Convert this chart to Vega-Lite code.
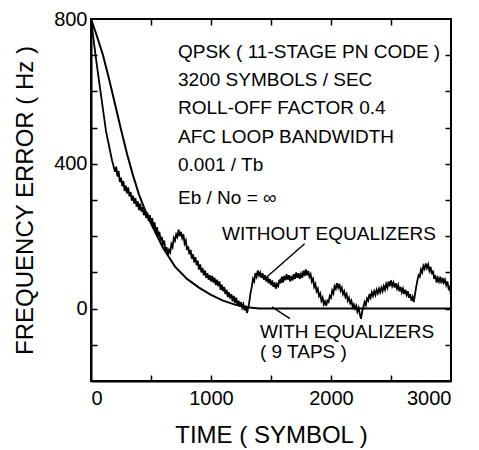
{
  "$schema": "https://vega.github.io/schema/vega-lite/v6.json",
  "autosize": "none",
  "padding": {"left": 91, "top": 19, "right": 28, "bottom": 69},
  "width": 360,
  "height": 362,
  "background": "white",
  "config": {
    "font": "Liberation Sans",
    "view": {"stroke": "black", "strokeWidth": 2},
    "axis": {
      "domainColor": "black", "domainWidth": 2, "tickColor": "black", "tickWidth": 1.5,
      "labelColor": "black", "titleColor": "black", "titleFontWeight": "normal",
      "labelFont": "Liberation Sans", "titleFont": "Liberation Sans", "grid": false
    }
  },
  "datasets": {
    "smooth": [
      {"t": 0, "v": 800}, {"t": 50, "v": 752}, {"t": 100, "v": 700}, {"t": 150, "v": 635}, {"t": 200, "v": 565},
      {"t": 250, "v": 495}, {"t": 300, "v": 428}, {"t": 350, "v": 368}, {"t": 400, "v": 315},
      {"t": 450, "v": 272}, {"t": 500, "v": 235}, {"t": 600, "v": 168}, {"t": 700, "v": 116},
      {"t": 800, "v": 82}, {"t": 900, "v": 58}, {"t": 1000, "v": 38}, {"t": 1100, "v": 22},
      {"t": 1200, "v": 11}, {"t": 1300, "v": 4}, {"t": 1400, "v": 0}, {"t": 3000, "v": 0}
    ],
    "noisy": [
      {"t": 0, "v": 800}, {"t": 15, "v": 760}, {"t": 30, "v": 720}, {"t": 50, "v": 670}, {"t": 75, "v": 610},
      {"t": 100, "v": 550}, {"t": 125, "v": 490}, {"t": 150, "v": 450}, {"t": 175, "v": 410},
      {"t": 200, "v": 378}, {"t": 210, "v": 392}, {"t": 220, "v": 365}, {"t": 230, "v": 380}, {"t": 240, "v": 350},
      {"t": 250, "v": 362}, {"t": 260, "v": 338}, {"t": 270, "v": 352}, {"t": 280, "v": 325}, {"t": 290, "v": 340},
      {"t": 300, "v": 318}, {"t": 310, "v": 335}, {"t": 320, "v": 310}, {"t": 330, "v": 322}, {"t": 340, "v": 298},
      {"t": 350, "v": 312}, {"t": 360, "v": 290}, {"t": 370, "v": 305}, {"t": 380, "v": 282}, {"t": 390, "v": 296},
      {"t": 400, "v": 272}, {"t": 410, "v": 290}, {"t": 420, "v": 268}, {"t": 430, "v": 280}, {"t": 440, "v": 258},
      {"t": 450, "v": 275}, {"t": 460, "v": 250}, {"t": 470, "v": 265}, {"t": 480, "v": 242}, {"t": 490, "v": 258},
      {"t": 500, "v": 235}, {"t": 510, "v": 250}, {"t": 520, "v": 222}, {"t": 530, "v": 238}, {"t": 540, "v": 210},
      {"t": 550, "v": 225}, {"t": 560, "v": 200}, {"t": 570, "v": 212}, {"t": 580, "v": 188}, {"t": 590, "v": 198},
      {"t": 600, "v": 175}, {"t": 610, "v": 188}, {"t": 620, "v": 160}, {"t": 630, "v": 170}, {"t": 640, "v": 148},
      {"t": 650, "v": 162}, {"t": 660, "v": 155}, {"t": 670, "v": 178}, {"t": 680, "v": 170}, {"t": 690, "v": 195},
      {"t": 700, "v": 188}, {"t": 710, "v": 205}, {"t": 720, "v": 198}, {"t": 730, "v": 218}, {"t": 740, "v": 200},
      {"t": 750, "v": 212}, {"t": 760, "v": 195}, {"t": 770, "v": 205}, {"t": 780, "v": 180}, {"t": 790, "v": 188},
      {"t": 800, "v": 162}, {"t": 810, "v": 172}, {"t": 820, "v": 150}, {"t": 830, "v": 162}, {"t": 840, "v": 138},
      {"t": 850, "v": 150}, {"t": 860, "v": 128}, {"t": 870, "v": 142}, {"t": 880, "v": 120}, {"t": 890, "v": 132},
      {"t": 900, "v": 108}, {"t": 910, "v": 122}, {"t": 920, "v": 100}, {"t": 930, "v": 112}, {"t": 940, "v": 92},
      {"t": 950, "v": 105}, {"t": 960, "v": 85}, {"t": 970, "v": 98}, {"t": 980, "v": 80}, {"t": 990, "v": 92},
      {"t": 1000, "v": 75}, {"t": 1010, "v": 90}, {"t": 1020, "v": 72}, {"t": 1030, "v": 85}, {"t": 1040, "v": 65},
      {"t": 1050, "v": 80}, {"t": 1060, "v": 62}, {"t": 1070, "v": 75}, {"t": 1080, "v": 52}, {"t": 1090, "v": 66},
      {"t": 1100, "v": 48}, {"t": 1110, "v": 60}, {"t": 1120, "v": 40}, {"t": 1130, "v": 52}, {"t": 1140, "v": 32},
      {"t": 1150, "v": 45}, {"t": 1160, "v": 28}, {"t": 1170, "v": 40}, {"t": 1180, "v": 20}, {"t": 1190, "v": 35},
      {"t": 1200, "v": 15}, {"t": 1210, "v": 30}, {"t": 1220, "v": 10}, {"t": 1230, "v": 22}, {"t": 1240, "v": 5},
      {"t": 1250, "v": 18}, {"t": 1260, "v": 2}, {"t": 1270, "v": 12}, {"t": 1280, "v": -5}, {"t": 1290, "v": 8},
      {"t": 1300, "v": -12}, {"t": 1310, "v": 2}, {"t": 1320, "v": 20}, {"t": 1330, "v": 45}, {"t": 1340, "v": 60},
      {"t": 1350, "v": 82}, {"t": 1360, "v": 75}, {"t": 1370, "v": 98}, {"t": 1380, "v": 88}, {"t": 1390, "v": 105},
      {"t": 1400, "v": 92}, {"t": 1410, "v": 100}, {"t": 1420, "v": 85}, {"t": 1430, "v": 98}, {"t": 1440, "v": 80},
      {"t": 1450, "v": 92}, {"t": 1460, "v": 75}, {"t": 1470, "v": 88}, {"t": 1480, "v": 70}, {"t": 1490, "v": 82},
      {"t": 1500, "v": 65}, {"t": 1510, "v": 78}, {"t": 1520, "v": 60}, {"t": 1530, "v": 72}, {"t": 1540, "v": 55},
      {"t": 1550, "v": 68}, {"t": 1560, "v": 62}, {"t": 1570, "v": 80}, {"t": 1580, "v": 70}, {"t": 1590, "v": 88},
      {"t": 1600, "v": 72}, {"t": 1610, "v": 90}, {"t": 1620, "v": 78}, {"t": 1630, "v": 95}, {"t": 1640, "v": 80},
      {"t": 1650, "v": 92}, {"t": 1660, "v": 75}, {"t": 1670, "v": 90}, {"t": 1680, "v": 78}, {"t": 1690, "v": 95},
      {"t": 1700, "v": 82}, {"t": 1710, "v": 100}, {"t": 1720, "v": 85}, {"t": 1730, "v": 98}, {"t": 1740, "v": 82},
      {"t": 1750, "v": 96}, {"t": 1760, "v": 85}, {"t": 1770, "v": 105}, {"t": 1780, "v": 90}, {"t": 1790, "v": 108},
      {"t": 1800, "v": 92}, {"t": 1810, "v": 104}, {"t": 1820, "v": 88}, {"t": 1830, "v": 95}, {"t": 1840, "v": 75},
      {"t": 1850, "v": 82}, {"t": 1860, "v": 60}, {"t": 1870, "v": 68}, {"t": 1880, "v": 48}, {"t": 1890, "v": 55},
      {"t": 1900, "v": 35}, {"t": 1910, "v": 42}, {"t": 1920, "v": 22}, {"t": 1930, "v": 30}, {"t": 1940, "v": 12},
      {"t": 1950, "v": 20}, {"t": 1960, "v": 8}, {"t": 1970, "v": 22}, {"t": 1980, "v": 18}, {"t": 1990, "v": 35},
      {"t": 2000, "v": 30}, {"t": 2010, "v": 50}, {"t": 2020, "v": 42}, {"t": 2030, "v": 62}, {"t": 2040, "v": 55},
      {"t": 2050, "v": 70}, {"t": 2060, "v": 58}, {"t": 2070, "v": 68}, {"t": 2080, "v": 50}, {"t": 2090, "v": 58},
      {"t": 2100, "v": 40}, {"t": 2110, "v": 48}, {"t": 2120, "v": 32}, {"t": 2130, "v": 40}, {"t": 2140, "v": 22},
      {"t": 2150, "v": 30}, {"t": 2160, "v": 15}, {"t": 2170, "v": 22}, {"t": 2180, "v": 5}, {"t": 2190, "v": 12},
      {"t": 2200, "v": 0}, {"t": 2210, "v": 8}, {"t": 2220, "v": -8}, {"t": 2230, "v": 2}, {"t": 2240, "v": -15},
      {"t": 2250, "v": -28}, {"t": 2260, "v": -8}, {"t": 2270, "v": 5}, {"t": 2280, "v": 18}, {"t": 2290, "v": 10},
      {"t": 2300, "v": 28}, {"t": 2310, "v": 22}, {"t": 2320, "v": 40}, {"t": 2330, "v": 30}, {"t": 2340, "v": 45},
      {"t": 2350, "v": 35}, {"t": 2360, "v": 48}, {"t": 2370, "v": 38}, {"t": 2380, "v": 52}, {"t": 2390, "v": 42},
      {"t": 2400, "v": 55}, {"t": 2410, "v": 45}, {"t": 2420, "v": 58}, {"t": 2430, "v": 48}, {"t": 2440, "v": 62},
      {"t": 2450, "v": 52}, {"t": 2460, "v": 68}, {"t": 2470, "v": 58}, {"t": 2480, "v": 75}, {"t": 2490, "v": 62},
      {"t": 2500, "v": 78}, {"t": 2510, "v": 62}, {"t": 2520, "v": 72}, {"t": 2530, "v": 58}, {"t": 2540, "v": 70},
      {"t": 2550, "v": 55}, {"t": 2560, "v": 65}, {"t": 2570, "v": 48}, {"t": 2580, "v": 60}, {"t": 2590, "v": 45},
      {"t": 2600, "v": 55}, {"t": 2610, "v": 40}, {"t": 2620, "v": 52}, {"t": 2630, "v": 38}, {"t": 2640, "v": 48},
      {"t": 2650, "v": 30}, {"t": 2660, "v": 40}, {"t": 2670, "v": 22}, {"t": 2680, "v": 32}, {"t": 2690, "v": 18},
      {"t": 2700, "v": 40}, {"t": 2710, "v": 60}, {"t": 2720, "v": 78}, {"t": 2730, "v": 92}, {"t": 2740, "v": 88},
      {"t": 2750, "v": 108}, {"t": 2760, "v": 100}, {"t": 2770, "v": 118}, {"t": 2780, "v": 110}, {"t": 2790, "v": 125},
      {"t": 2800, "v": 112}, {"t": 2810, "v": 122}, {"t": 2820, "v": 105}, {"t": 2830, "v": 115}, {"t": 2840, "v": 95},
      {"t": 2850, "v": 105}, {"t": 2860, "v": 82}, {"t": 2870, "v": 92}, {"t": 2880, "v": 72}, {"t": 2890, "v": 85},
      {"t": 2900, "v": 75}, {"t": 2910, "v": 88}, {"t": 2920, "v": 70}, {"t": 2930, "v": 85}, {"t": 2940, "v": 72},
      {"t": 2950, "v": 80}, {"t": 2960, "v": 65}, {"t": 2970, "v": 75}, {"t": 2980, "v": 55}, {"t": 2990, "v": 60},
      {"t": 3000, "v": 35}
    ],
    "notes": [
      {"t": 725, "v": 709, "label": "QPSK ( 11-STAGE PN CODE )"},
      {"t": 725, "v": 632, "label": "3200 SYMBOLS / SEC"},
      {"t": 725, "v": 554, "label": "ROLL-OFF FACTOR 0.4"},
      {"t": 725, "v": 474, "label": "AFC LOOP BANDWIDTH"},
      {"t": 725, "v": 397, "label": "0.001 / Tb"},
      {"t": 725, "v": 306, "label": "Eb / No = ∞"},
      {"t": 1092, "v": 207, "label": "WITHOUT EQUALIZERS"},
      {"t": 1408, "v": -64, "label": "WITH EQUALIZERS"},
      {"t": 1408, "v": -120, "label": "( 9 TAPS )"}
    ],
    "leaders": [
      {"t": 1780, "v": 179, "t2": 1467, "v2": 88},
      {"t": 1508, "v": 5, "t2": 1658, "v2": -28}
    ]
  },
  "layer": [
    {
      "data": {"name": "smooth"},
      "mark": {"type": "line", "color": "black", "strokeWidth": 2},
      "encoding": {
        "x": {"field": "t", "type": "quantitative", "scale": {"domain": [0, 3000], "nice": false},
          "axis": {"orient": "bottom", "values": [0, 1000, 2000, 3000], "ticks": false,
            "format": "d", "labelPadding": 7, "labelFontSize": 20,
            "title": "TIME ( SYMBOL )", "titleFontSize": 24, "titleX": 180, "titleY": 54,
            "titleAlign": "center", "titleBaseline": "middle"}},
        "y": {"field": "v", "type": "quantitative", "scale": {"domain": [-200, 800], "nice": false},
          "axis": {"orient": "left", "values": [0, 400, 800], "ticks": false,
            "format": "d", "labelPadding": 4, "labelFontSize": 20,
            "title": "FREQUENCY ERROR ( Hz )", "titleFontSize": 24, "titleX": -66, "titleY": 181,
            "titleAngle": 270, "titleAlign": "center", "titleBaseline": "middle"}}
      }
    },
    {
      "data": {"name": "noisy"},
      "mark": {"type": "line", "color": "black", "strokeWidth": 1.8},
      "encoding": {
        "x": {"field": "t", "type": "quantitative",
          "axis": {"orient": "top", "offset": -362, "values": [500, 1000, 1500, 2000, 2500], "labels": false, "domain": false,
            "tickSize": 6, "title": null}},
        "y": {"field": "v", "type": "quantitative",
          "axis": {"orient": "right", "offset": -360, "values": [-100, 0, 100, 200, 300, 400, 500, 600, 700], "labels": false, "domain": false,
            "tickSize": 6, "title": null}}
      }
    },
    {
      "data": {"name": "notes"},
      "mark": {"type": "text", "align": "left", "baseline": "middle", "fontSize": 19, "font": "Liberation Sans", "color": "black"},
      "encoding": {
        "x": {"field": "t", "type": "quantitative",
          "axis": {"orient": "bottom", "offset": -362, "values": [500, 1000, 1500, 2000, 2500], "labels": false, "domain": false,
            "tickSize": 6, "title": null}},
        "y": {"field": "v", "type": "quantitative",
          "axis": {"orient": "left", "offset": -360, "values": [-100, 0, 100, 200, 300, 400, 500, 600, 700], "labels": false, "domain": false,
            "tickSize": 6, "title": null}},
        "text": {"field": "label"}
      }
    },
    {
      "data": {"name": "leaders"},
      "mark": {"type": "rule", "color": "black", "strokeWidth": 1.5},
      "encoding": {
        "x": {"field": "t", "type": "quantitative", "axis": null},
        "y": {"field": "v", "type": "quantitative", "axis": null},
        "x2": {"field": "t2"},
        "y2": {"field": "v2"}
      }
    }
  ],
  "resolve": {"axis": {"x": "independent", "y": "independent"}}
}
